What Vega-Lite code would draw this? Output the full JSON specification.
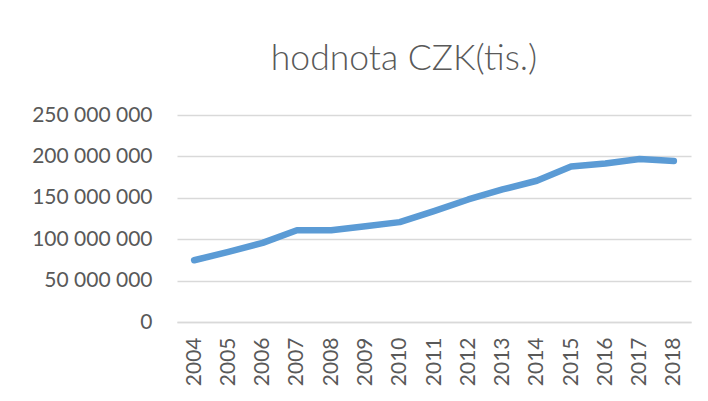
{
  "$schema": "https://vega.github.io/schema/vega-lite/v6.json",
  "autosize": {"type": "none"},
  "padding": {"left": 177, "top": 115, "right": 17, "bottom": 79},
  "width": 514,
  "height": 207,
  "background": "#ffffff",
  "title": {
    "text": "hodnota CZK(tis.)",
    "frame": "group",
    "anchor": "middle",
    "dx": -30,
    "baseline": "alphabetic",
    "offset": -1,
    "font": "Lato",
    "fontSize": 35.5,
    "fontWeight": 300,
    "color": "#595959"
  },
  "data": {
    "values": [
      {"rok": "2004", "hodnota": 74600000},
      {"rok": "2005", "hodnota": 84700000},
      {"rok": "2006", "hodnota": 95600000},
      {"rok": "2007", "hodnota": 110900000},
      {"rok": "2008", "hodnota": 110900000},
      {"rok": "2009", "hodnota": 115700000},
      {"rok": "2010", "hodnota": 120600000},
      {"rok": "2011", "hodnota": 133900000},
      {"rok": "2012", "hodnota": 148000000},
      {"rok": "2013", "hodnota": 160100000},
      {"rok": "2014", "hodnota": 170600000},
      {"rok": "2015", "hodnota": 187900000},
      {"rok": "2016", "hodnota": 191500000},
      {"rok": "2017", "hodnota": 196800000},
      {"rok": "2018", "hodnota": 194400000}
    ]
  },
  "mark": {
    "type": "line",
    "color": "#5B9BD5",
    "strokeWidth": 6.5,
    "strokeCap": "round",
    "strokeJoin": "round"
  },
  "encoding": {
    "x": {
      "field": "rok",
      "type": "ordinal",
      "scale": {"type": "point", "padding": 0.5},
      "axis": {
        "title": null,
        "labelAngle": -90,
        "labelAlign": "right",
        "labelBaseline": "middle",
        "labelPadding": 15,
        "ticks": false,
        "domain": true,
        "domainColor": "#d9d9d9",
        "domainWidth": 1.5,
        "grid": false
      }
    },
    "y": {
      "field": "hodnota",
      "type": "quantitative",
      "scale": {"domain": [0, 250000000], "nice": false},
      "axis": {
        "title": null,
        "values": [0, 50000000, 100000000, 150000000, 200000000, 250000000],
        "format": ",d",
        "ticks": false,
        "domain": false,
        "labelPadding": 25,
        "grid": true,
        "gridColor": "#d9d9d9",
        "gridWidth": 1.5
      }
    }
  },
  "config": {
    "locale": {
      "number": {
        "decimal": ",",
        "thousands": " ",
        "grouping": [3],
        "currency": ["", " Kč"]
      }
    },
    "view": {"stroke": null},
    "axis": {
      "labelFont": "Lato",
      "labelFontSize": 21,
      "labelColor": "#595959"
    }
  }
}
